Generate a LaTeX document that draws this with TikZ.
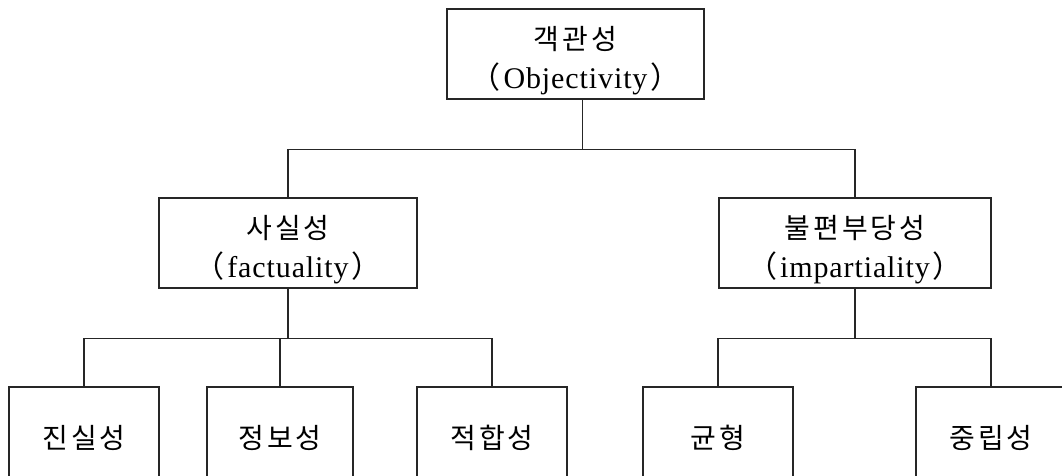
\documentclass[tikz,border=0pt]{standalone}
\usepackage{fontspec}
\setmainfont{Liberation Serif}[LetterSpace=3]
\newfontfamily\kor{Noto Sans CJK KR}[LetterSpace=11]
\newfontfamily\korparen{Noto Sans CJK KR}
\usetikzlibrary{calc}
\newcommand{\ko}[1]{{\kor\fontsize{28pt}{39pt}\selectfont #1}}
\newcommand{\kohead}[1]{\rule{0pt}{36pt}\ko{#1}}
\newcommand{\paren}[1]{{\korparen （}\hspace{3pt}#1\hspace{3pt}{\korparen ）}}
\tikzset{
  box/.style={
    draw=black!85,
    line width=1.2pt,
    inner sep=0pt,
    align=center,
    font=\fontsize{30pt}{39pt}\selectfont
  },
  top box/.style={
    box,
    minimum width=257pt,
    minimum height=90pt
  },
  leaf box/.style={
    box,
    minimum width=150pt,
    minimum height=102pt
  },
  link/.style={
    draw=black!85,
    line width=1.2pt
  }
}

\begin{document}
\begin{tikzpicture}[x=1pt, y=1pt]

  \clip (0,0) rectangle (1062,-476);

  %% ---- 최상위: 객관성 ----
  \node[top box] (obj) at (575.5, -54) {\kohead{객관성}\\\paren{Objectivity}};

  %% ---- 둘째 단계 ----
  \node[box, minimum width=258pt, minimum height=90pt] (fact)   at (288, -243) {\kohead{사실성}\\\paren{factuality}};
  \node[box, minimum width=272pt, minimum height=90pt] (impart) at (855, -243) {\kohead{불편부당성}\\\paren{impartiality}};

  %% ---- 셋째 단계 (아래가 잘린 상자) ----
  \node[leaf box]                     (truth)   at (84,  -438) {\ko{진실성}};
  \node[leaf box, minimum width=146pt] (inform) at (280, -438) {\ko{정보성}};
  \node[leaf box]                     (fitness) at (492, -438) {\ko{적합성}};
  \node[leaf box]                     (balance) at (718, -438) {\ko{균형}};
  \node[leaf box]                     (neutral) at (991, -438) {\ko{중립성}};

  %% ---- 연결선 ----
  % 객관성 -> 사실성, 불편부당성
  \draw[link] ([xshift=7pt]obj.south) -- ++(0,-50) coordinate (j0);
  \draw[link] (fact.north) |- (j0) -| (impart.north);

  % 사실성 -> 진실성, 정보성, 적합성
  \draw[link] (fact.south) -- ++(0,-50) coordinate (j1);
  \draw[link] (truth.north) |- (j1) -| (fitness.north);
  \draw[link] (inform.north) -- (inform.north |- j1);

  % 불편부당성 -> 균형, 중립성
  \draw[link] (impart.south) -- ++(0,-50) coordinate (j2);
  \draw[link] (balance.north) |- (j2) -| (neutral.north);

\end{tikzpicture}
\end{document}
